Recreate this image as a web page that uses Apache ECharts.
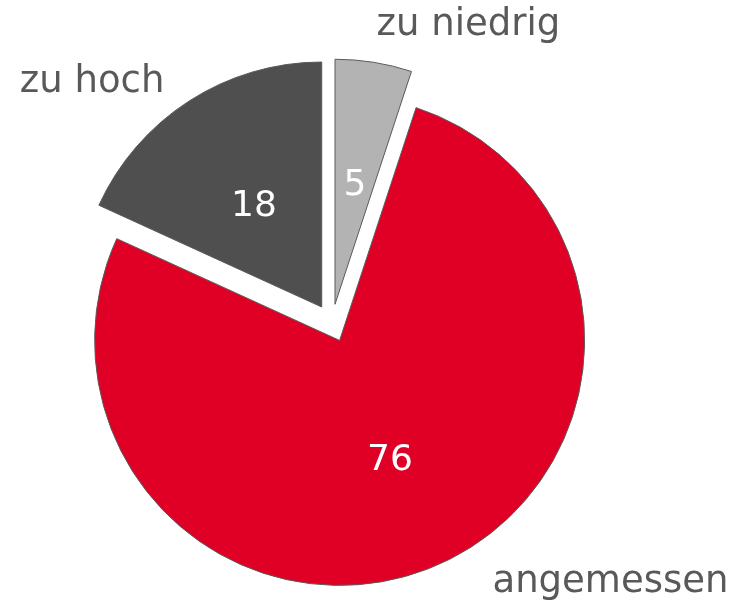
<!DOCTYPE html>
<html>
<head>
<meta charset="utf-8">
<script src="https://cdn.jsdelivr.net/npm/echarts@6/dist/echarts.min.js"></script>
<style>
    html, body { margin: 0; padding: 0; background: #fff; }
    #chart { width: 729px; height: 603px; }
</style>
</head>
<body>
<div id="chart"></div>
<script>
// data
const categories = ['zu niedrig', 'angemessen', 'zu hoch'];
const values = [5, 76, 18];
const colors = ['#b3b3b3', '#e00025', '#4f4f4f'];

// outer label placement (labelLine length / length2, lines hidden)
const outerLines = [
    { length: 37, length2: 0, gap: -3 },
    { length: 19, length2: 43, gap: 4 },
    { length: 22, length2: 9, gap: 4 }
];

const font = '"DejaVu Sans", Verdana, sans-serif';

const chart = echarts.init(document.getElementById('chart'));

const base = {
    type: 'pie',
    center: [332, 323],
    radius: 245,
    startAngle: 90,
    clockwise: true,
    selectedMode: 'multiple',
    selectedOffset: 19,
    avoidLabelOverlap: false,
    animation: false,
    emphasis: { disabled: true }
};

chart.setOption({
    backgroundColor: '#fff',
    series: [
        // names outside
        Object.assign({}, base, {
            silent: true,
            itemStyle: { color: 'rgba(0,0,0,0)', borderWidth: 0 },
            label: {
                show: true,
                position: 'outer',
                formatter: '{b}',
                color: '#595959',
                fontFamily: font,
                fontSize: 37
            },
            labelLine: { show: false },
            data: categories.map((name, i) => ({
                name: name,
                value: values[i],
                selected: true,
                label: { distanceToLabelLine: outerLines[i].gap },
                labelLine: { show: false, length: outerLines[i].length, length2: outerLines[i].length2 }
            }))
        }),
        // slices with values inside
        Object.assign({}, base, {
            itemStyle: { borderColor: '#5a5a5a', borderWidth: 1 },
            label: {
                show: true,
                position: 'inside',
                formatter: '{c}',
                color: '#fff',
                fontFamily: font,
                fontSize: 36
            },
            labelLayout: { dy: 5 },
            labelLine: { show: false },
            data: categories.map((name, i) => ({
                name: name,
                value: values[i],
                selected: true,
                itemStyle: { color: colors[i] }
            }))
        })
    ]
});
</script>
</body>
</html>
